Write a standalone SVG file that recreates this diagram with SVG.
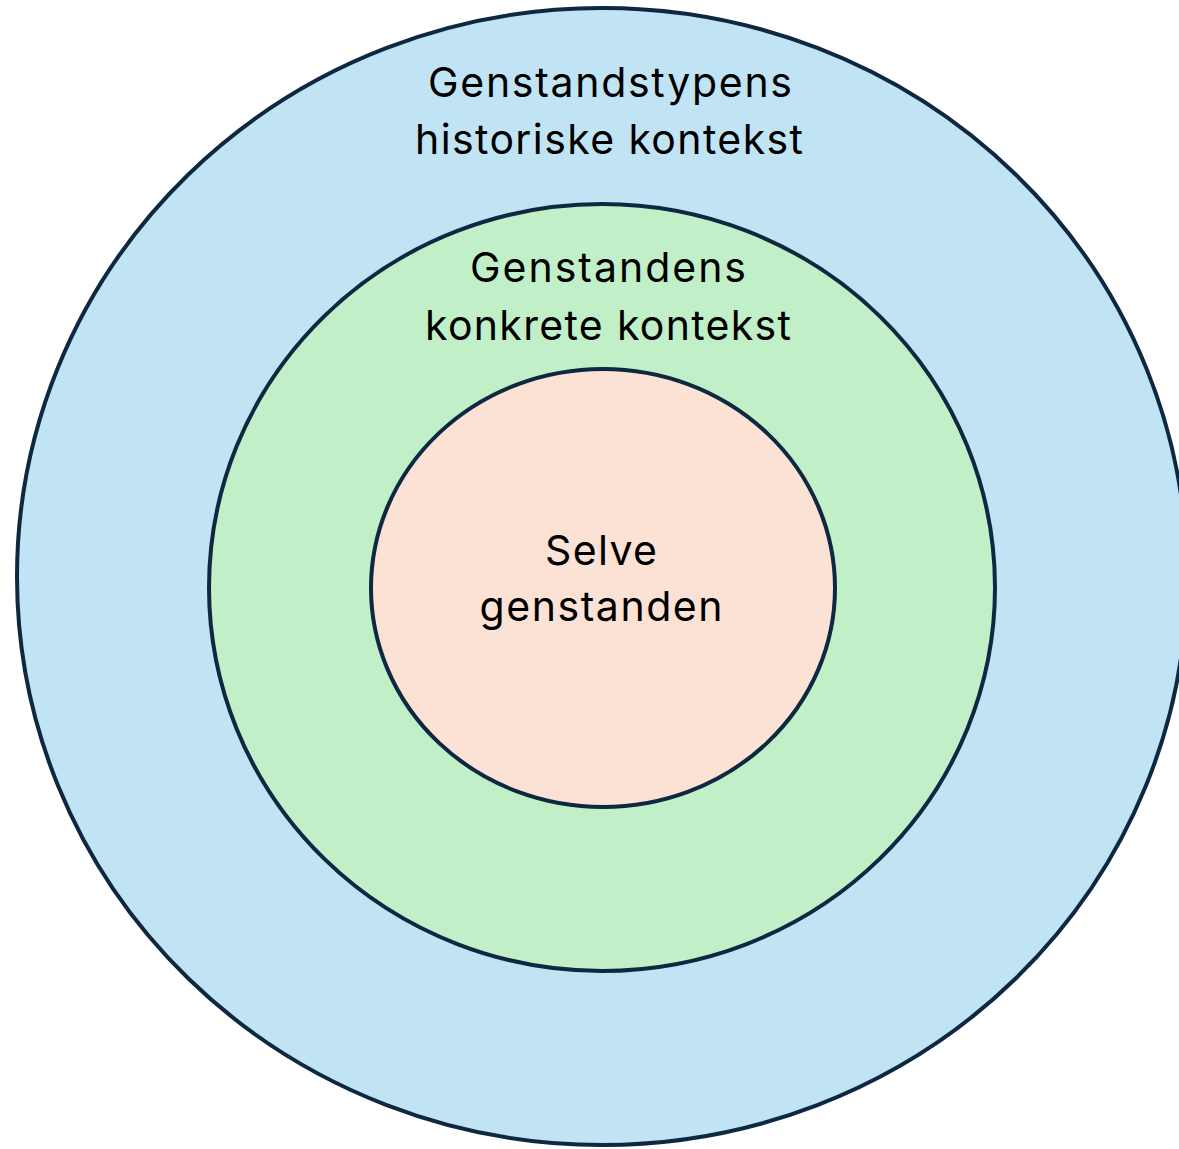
<svg xmlns="http://www.w3.org/2000/svg" width="1179" height="1149" viewBox="0 0 1179 1149">
<style>
.ring{stroke:#0E2841;stroke-width:4}
.lbl{font-family:Inter,"Liberation Sans",sans-serif;font-size:41px;fill:#000;text-anchor:middle}
</style>
<rect width="1179" height="1149" fill="#fff"/>
<g id="outer">
<ellipse class="ring" cx="602" cy="576.5" rx="585" ry="568.5" fill="#C1E4F5"/>
<text class="lbl" x="610" y="97" textLength="364" lengthAdjust="spacing">Genstandstypens</text>
<text class="lbl" x="609" y="154" textLength="388" lengthAdjust="spacing">historiske kontekst</text>
</g>
<g id="middle">
<ellipse class="ring" cx="602" cy="587.5" rx="393" ry="383.5" fill="#C1F0C8"/>
<text class="lbl" x="608" y="282" textLength="276" lengthAdjust="spacing">Genstandens</text>
<text class="lbl" x="608" y="340" textLength="366" lengthAdjust="spacing">konkrete kontekst</text>
</g>
<g id="inner">
<ellipse class="ring" cx="603" cy="588" rx="232" ry="219" fill="#FBE2D5"/>
<text class="lbl" x="601" y="565" textLength="112" lengthAdjust="spacing">Selve</text>
<text class="lbl" x="601" y="621" textLength="243" lengthAdjust="spacing">genstanden</text>
</g>
<g id="connectors"/>
</svg>
